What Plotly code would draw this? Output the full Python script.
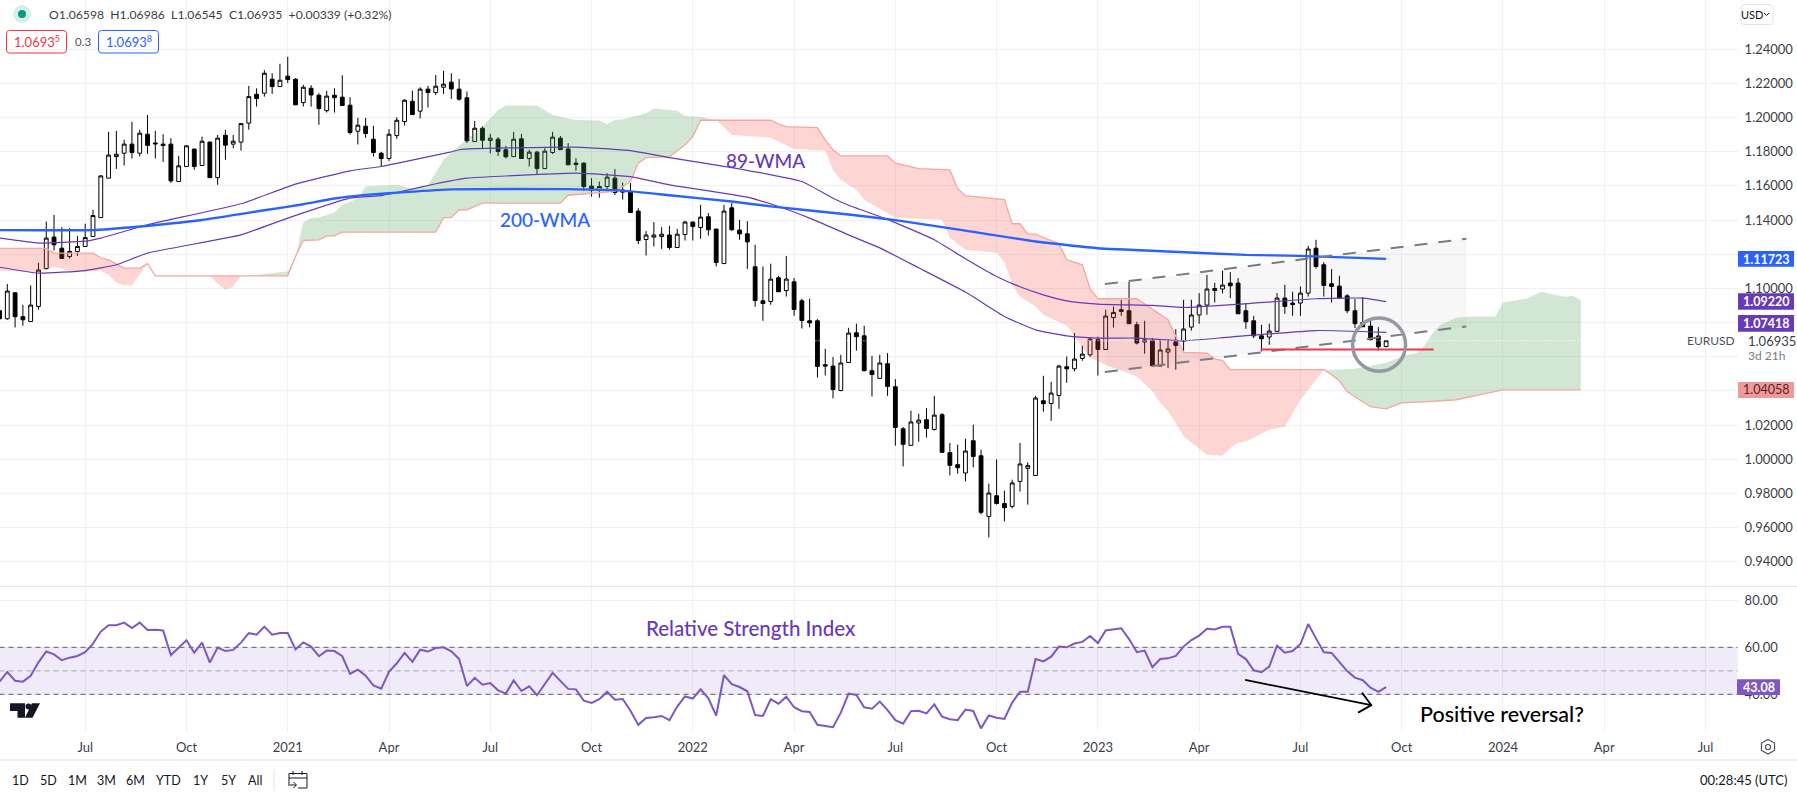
import plotly.graph_objects as go

W, H = 1797, 796
FONT = "Lato"

opens = [1.0869,1.0822,1.0974,1.0834,1.0806,1.0894,1.1116,1.13,1.1235,1.1186,
1.1216,1.1245,1.1303,1.1414,1.1645,1.1771,1.1791,1.1844,1.1791,1.1902,
1.1851,1.1844,1.1844,1.1625,1.1713,1.1815,1.1719,1.1856,1.1648,1.1896,
1.1844,1.1856,1.1967,1.2136,1.2142,1.2224,1.2181,1.2242,1.2224,1.2087,
1.2171,1.213,1.204,1.213,1.2119,1.2072,1.192,1.1949,1.1873,1.1791,
1.176,1.1894,1.1976,1.2095,1.2037,1.2166,1.2146,1.2177,1.2207,1.2166,
1.2115,1.1859,1.1937,1.1865,1.1873,1.1811,1.1771,1.1875,1.176,1.1797,
1.1701,1.1795,1.1879,1.1816,1.1733,1.1733,1.1598,1.1575,1.1596,1.1645,
1.1563,1.1565,1.1452,1.1286,1.13,1.1303,1.1312,1.1239,1.1315,1.1388,
1.1356,1.1419,1.1347,1.1145,1.1471,1.1341,1.1319,1.1126,1.0927,1.0923,
1.1062,1.0987,1.1038,1.0927,1.081,1.081,1.0553,1.0545,1.0402,1.0566,
1.074,1.0722,1.0518,1.0473,1.0559,1.0424,1.0178,1.0081,1.0212,1.0231,
1.0174,1.026,1.0038,0.9968,0.9919,1.0108,1.002,0.9665,0.9786,0.974,
0.9724,0.987,0.9946,0.9905,1.0342,1.0326,1.0373,1.0541,1.0529,1.059,
1.0611,1.0699,1.0642,1.0829,1.0875,1.0869,1.0787,1.0686,1.0693,1.0545,
1.0627,1.0687,1.0691,1.0773,1.0844,1.0902,1.0999,1.0996,1.1031,1.1031,
1.0869,1.081,1.0722,1.0715,1.0748,1.0943,1.0914,1.0914,1.0972,1.1235,
1.1138,1.1027,1.1013,1.0956,1.0869,1.08,1.0779,1.0721,1.06598]

highs = [1.0898,1.1025,1.0976,1.0904,1.1017,1.1149,1.1391,1.143,1.1358,1.1352,
1.1307,1.1378,1.146,1.1662,1.1916,1.1922,1.1869,1.1974,1.1928,1.2015,
1.1922,1.1902,1.1879,1.1775,1.1838,1.1818,1.1888,1.1859,1.1898,1.1928,
1.1898,1.1967,1.2185,1.2171,1.2277,1.2259,1.2314,1.2355,1.223,1.2191,
1.2189,1.2142,1.2156,1.2171,1.2247,1.2119,1.1998,1.1998,1.1951,1.1799,
1.1932,1.2002,1.2107,1.2157,1.2177,1.2185,1.2249,1.2273,1.2259,1.2226,
1.2152,1.198,1.1947,1.1904,1.1885,1.1834,1.1916,1.1904,1.1811,1.1805,
1.182,1.1916,1.1892,1.185,1.1762,1.1736,1.1645,1.1625,1.1674,1.1698,
1.1619,1.1616,1.1469,1.1335,1.1388,1.1358,1.1366,1.1348,1.1395,1.139,
1.1489,1.144,1.1348,1.1489,1.1499,1.1401,1.1393,1.1255,1.1128,1.1144,
1.1073,1.119,1.106,1.0939,1.0939,1.082,1.0646,1.0598,1.0611,1.0769,
1.0793,1.0781,1.0605,1.0611,1.0621,1.0469,1.0188,1.0284,1.0266,1.0299,
1.0371,1.027,1.0095,1.0085,1.012,1.0202,1.0056,0.9857,0.9999,0.9816,
0.988,1.0095,0.9981,1.0371,1.0488,1.0453,1.0553,1.0601,1.0738,1.0664,
1.0715,1.0717,1.0875,1.0894,1.0933,1.1038,1.0804,1.081,1.0709,1.0699,
1.0703,1.0762,1.0933,1.0933,1.0972,1.1078,1.1032,1.1103,1.1095,1.106,
1.091,1.0839,1.0787,1.0793,1.0972,1.1021,1.098,1.1011,1.1249,1.1284,
1.1153,1.1113,1.1073,1.0966,1.0937,1.0949,1.0816,1.0773,1.06986]

lows = [1.0804,1.0816,1.0771,1.0781,1.0806,1.0875,1.1109,1.1221,1.1175,1.1175,
1.119,1.1245,1.1303,1.1413,1.1645,1.1699,1.1719,1.176,1.1771,1.1787,
1.176,1.174,1.1617,1.1625,1.1713,1.1694,1.1719,1.1648,1.1606,1.1752,
1.182,1.1806,1.1928,1.2064,1.2122,1.2138,1.2181,1.2201,1.2074,1.2064,
1.2064,1.1957,1.2029,1.2029,1.207,1.19,1.1842,1.1881,1.1771,1.1713,
1.1746,1.1875,1.1953,1.2017,1.1994,1.2058,1.2132,1.2138,1.2109,1.2099,
1.1851,1.1859,1.1815,1.1789,1.1775,1.176,1.1771,1.176,1.1713,1.167,
1.1701,1.1787,1.1812,1.1723,1.1688,1.1572,1.1537,1.1531,1.1581,1.1546,
1.152,1.144,1.1259,1.1192,1.1245,1.1231,1.1226,1.1239,1.128,1.128,
1.129,1.1309,1.1128,1.1145,1.1337,1.1284,1.1114,1.0892,1.081,1.0904,
1.098,1.0952,1.0839,1.0765,1.0771,1.0478,1.049,1.0356,1.0397,1.0566,
1.0635,1.0514,1.0367,1.0473,1.0371,1.0079,0.9958,1.0081,1.0102,1.0127,
1.0168,1.004,0.9905,0.9915,0.987,0.9952,0.9677,0.9542,0.9734,0.9636,
0.9712,0.981,0.9734,0.9905,1.0278,1.0225,1.0295,1.0447,1.0514,1.0576,
1.06,1.049,1.0642,1.0771,1.0839,1.0793,1.0672,1.0617,1.0543,1.0545,
1.0533,1.0524,1.0635,1.0753,1.0793,1.0845,1.0917,1.097,1.0943,1.0851,
1.0763,1.0709,1.0631,1.067,1.0748,1.0851,1.0839,1.0839,1.0952,1.1116,
1.0952,1.0917,1.0943,1.0855,1.0767,1.0775,1.0693,1.0636,1.06545]

closes = [1.0822,1.0984,1.0834,1.0816,1.0902,1.1107,1.1294,1.1255,1.1175,1.1216,
1.1245,1.1297,1.1426,1.1658,1.178,1.1785,1.1844,1.1795,1.1908,1.1836,
1.1846,1.1836,1.1629,1.1717,1.1834,1.1713,1.1861,1.1648,1.1879,1.1838,
1.1861,1.1964,1.2122,1.2111,1.2259,1.2181,1.2218,1.2222,1.2074,1.2177,
1.2132,1.2052,1.2125,1.2116,1.207,1.1912,1.1955,1.1906,1.1795,1.176,
1.1902,1.1984,1.2101,1.2017,1.2166,1.2146,1.2183,1.2195,1.2167,1.2107,
1.1863,1.1937,1.1867,1.1879,1.1801,1.177,1.1873,1.176,1.1797,1.1701,
1.1803,1.1885,1.1812,1.1723,1.1725,1.1596,1.1575,1.1596,1.1651,1.1561,
1.1575,1.1444,1.128,1.1312,1.1312,1.1317,1.1239,1.1317,1.1388,1.1362,
1.1417,1.1343,1.1151,1.1452,1.1343,1.1319,1.1272,1.0929,1.0911,1.1054,
1.098,1.1054,1.0876,1.0812,1.0798,1.0543,1.0545,1.0407,1.0563,1.0738,
1.0717,1.0518,1.0496,1.0563,1.0426,1.0186,1.0087,1.0218,1.0229,1.018,
1.0258,1.004,0.9964,0.995,1.0048,1.0016,0.9689,0.9802,0.9741,0.9716,
0.9861,0.9972,0.9962,1.0358,1.0325,1.0387,1.0545,1.0529,1.0586,1.0615,
1.0703,1.0642,1.0838,1.0859,1.0865,1.0793,1.068,1.0699,1.0547,1.0639,
1.0645,1.0666,1.0762,1.0844,1.0902,1.0996,1.0987,1.1019,1.1015,1.0851,
1.0804,1.0722,1.0705,1.075,1.0943,1.0894,1.0905,1.0972,1.123,1.1128,
1.1017,1.1011,1.0943,1.0869,1.0793,1.0775,1.0699,1.0658,1.06935]

rsi = [45.4,49.5,45.8,45.4,47.9,53.6,58.2,57.0,54.5,55.6,56.3,57.9,61.6,66.7,69.4,69.4,70.5,68.2,70.5,67.4,
67.5,67.2,56.7,59.7,63.0,57.7,62.0,53.5,59.9,58.4,58.9,62.0,66.0,65.4,68.8,65.4,66.1,66.1,59.1,62.1,
60.3,56.2,58.6,58.4,56.2,48.7,50.5,47.9,43.8,42.4,49.6,53.2,57.6,53.8,59.0,58.2,59.7,60.0,58.3,55.0,
43.5,47.0,44.1,44.8,41.7,40.3,46.0,41.4,43.4,39.6,44.4,49.1,45.7,42.3,42.1,37.3,36.3,37.9,41.1,37.7,
38.0,33.0,27.0,29.9,30.2,30.8,29.0,34.8,39.1,38.2,42.1,38.3,30.9,48.2,44.3,43.1,41.3,31.2,30.8,37.9,
36.0,39.0,34.5,32.8,32.5,27.0,26.5,26.0,32.2,40.3,39.7,34.5,33.9,36.9,33.3,29.0,27.5,32.8,33.0,31.9,
35.7,30.5,29.4,29.0,33.5,32.9,25.5,31.0,30.0,29.5,36.5,41.1,41.1,55.0,54.0,56.0,60.3,60.0,61.6,62.3,
64.8,61.8,67.2,67.8,68.1,63.5,57.9,58.6,51.5,55.0,55.3,56.3,60.3,63.1,65.0,67.9,67.6,68.7,68.7,57.2,
55.0,50.2,49.4,51.8,60.7,57.7,58.4,61.4,69.9,63.8,57.9,57.6,53.6,49.9,47.1,46.0,42.8,41.0,43.08]

wma200_x = [0,12,17,26,34,39,43,47,52,58,73,80,86,94,99,109,115,124,133,141,150,160,167,178]
wma200_y = [1.1341,1.1341,1.1358,1.14,1.1457,1.1492,1.1526,1.1547,1.1563,1.1579,1.1581,1.1572,1.1545,1.1508,1.148,1.1432,1.1399,1.1338,1.1274,1.1235,1.1216,1.1196,1.119,1.11723]

wma_a_x = [0,5,11,13,19,31,38,45,49,51,58,59,61,74,81,86,94,103,107,109,114,120,124,128,131,134,137,141,148,152,160,169,175,178]
wma_a_y = [1.1294,1.1265,1.1276,1.1294,1.1372,1.1495,1.161,1.1688,1.1713,1.1731,1.1799,1.1811,1.1818,1.1826,1.1806,1.1765,1.1707,1.1625,1.1527,1.1486,1.1404,1.1284,1.1173,1.1069,1.1009,1.0962,1.0927,1.0908,1.09,1.0888,1.091,1.0939,1.0943,1.0922]

wma_b_x = [0,5,11,15,19,31,37,45,49,51,56,60,68,74,81,86,96,100,104,109,113,118,124,129,133,137,141,146,152,158,169,178]
wma_b_y = [1.1124,1.1089,1.1104,1.1138,1.1206,1.1313,1.1411,1.1528,1.1543,1.1561,1.1612,1.1645,1.1664,1.1674,1.1654,1.1606,1.1534,1.1479,1.1411,1.1313,1.1237,1.112,1.0978,1.0835,1.0757,1.0722,1.0709,1.0709,1.0693,1.0715,1.0753,1.07418]

lead_b_x = [0,6,7,12,13,14,16,18,19,20,31,37,38,39,41,42,43,44,56,57,58,59,60,62,72,73,79,80,81,82,83,86,88,89,90,92,99,100,101,105,106,107,108,114,115,118,122,123,124,129,130,131,132,133,136,137,139,140,141,146,150,152,155,156,157,158,170,171,172,173,174,176,178,180,183,187,190,193,203]
lead_b_y = [1.1234,1.1234,1.1206,1.1206,1.1179,1.1167,1.1118,1.1118,1.1145,1.1073,1.1073,1.1073,1.1186,1.128,1.1284,1.1307,1.1307,1.1329,1.1329,1.1414,1.1414,1.146,1.146,1.1499,1.1499,1.1545,1.1567,1.1594,1.1625,1.1733,1.1765,1.177,1.184,1.1888,1.1984,1.1984,1.1984,1.1963,1.1947,1.1941,1.1869,1.1811,1.1775,1.1775,1.1733,1.1701,1.1694,1.1583,1.1542,1.1519,1.1378,1.1378,1.1317,1.1317,1.1261,1.1167,1.1138,1.0996,1.0939,1.0939,1.0816,1.0625,1.0621,1.0586,1.0578,1.0524,1.0524,1.0494,1.0459,1.0395,1.0366,1.0307,1.0295,1.033,1.0336,1.0348,1.0377,1.0406,1.04058]

lead_a_x = [0,5,6,7,9,11,13,14,15,16,17,19,20,27,28,29,30,31,33,37,38,39,40,41,43,44,45,46,47,51,53,55,56,57,59,62,64,65,69,71,74,77,78,79,80,83,84,87,88,90,92,93,94,99,102,106,107,108,110,111,115,121,122,124,128,129,130,131,133,134,137,140,142,146,148,149,150,152,155,157,158,159,160,161,163,165,167,170,171,174,177,178,180,182,183,184,185,187,189,192,193,195,196,198,199,201,202,203]
lead_a_y = [1.1103,1.1097,1.1109,1.1126,1.1103,1.1097,1.1103,1.1079,1.1032,1.1017,1.1017,1.1145,1.1073,1.1073,1.1027,1.0992,1.1009,1.1073,1.1079,1.1099,1.1186,1.1385,1.1411,1.1414,1.1444,1.1489,1.1508,1.1526,1.1596,1.1606,1.1581,1.1606,1.1676,1.1752,1.1834,1.1947,1.2044,1.207,1.207,1.2015,1.1986,1.1982,1.1961,1.1986,1.199,1.2025,1.2052,1.2039,1.2009,1.2005,1.1984,1.1945,1.1898,1.1882,1.1815,1.1806,1.1693,1.1635,1.1577,1.1518,1.1413,1.1401,1.1296,1.1226,1.1208,1.1155,1.1021,1.0951,1.0894,1.0845,1.0781,1.0594,1.0553,1.0484,1.0397,1.0329,1.0284,1.0133,1.0026,1.002,1.0065,1.0096,1.0104,1.0126,1.0173,1.019,1.0348,1.0524,1.0524,1.0529,1.0553,1.0564,1.0601,1.0623,1.067,1.074,1.0787,1.0828,1.0835,1.0835,1.0917,1.0933,1.0939,1.098,1.0968,1.0951,1.0956,1.0929]

cloud_sections = [(0,19,"red"),(19,31,"red"),(31,92,"green"),(92,170,"red"),(170,203,"green")]

channel_x = [141.9, 188.3]
channel_top = [1.1025, 1.129]
channel_bottom = [1.051, 1.0777]
support_x = [161.9, 184.1]
support_y = [1.0642, 1.0642]
circle_x = [173.7, 180.5]
circle_y = [1.0514, 1.0826]
arrow_x = [159.9, 176.1]
arrow_y = [46.1, 35.4]
head_x = [174.9, 176.1, 174.4]
head_y = [40.7, 35.4, 32.2]
last_price = 1.06935

price_ticks = [0.94,0.96,0.98,1.00,1.02,1.04,1.06,1.08,1.10,1.12,1.14,1.16,1.18,1.20,1.22,1.24]
price_labels = ["0.94000","0.96000","0.98000","1.00000","1.02000","","","","1.10000","","1.14000","1.16000","1.18000","1.20000","1.22000","1.24000"]
rsi_ticks = [40,60,80]
time_ticks = [11,24,37,50,63,76,89,102,115,128,141,154,167,180,193,206,219]
time_labels = ["Jul","Oct","2021","Apr","Jul","Oct","2022","Apr","Jul","Oct","2023","Apr","Jul","Oct","2024","Apr","Jul"]
buttons = [("1D",20),("5D",48),("1M",77),("3M",106),("6M",135),("YTD",168),("1Y",200),("5Y",228),("All",255)]

PURPLE = "#673ab7"
BLUE = "#2962ff"
RED = "#f23645"
PINK = "#f5a6a3"
GRID = "#f0f1f5"
INK = "#131722"
GREY = "#50535e"

def px(x): return x / W
def py(y): return 1 - y / H

fig = go.Figure()

for a, b, kind in cloud_sections:
    ax = [i for i in lead_a_x if a <= i <= b]
    ay = [v for i, v in zip(lead_a_x, lead_a_y) if a <= i <= b]
    bx = [i for i in lead_b_x if a <= i <= b]
    by = [v for i, v in zip(lead_b_x, lead_b_y) if a <= i <= b]
    color = "rgba(76,160,80,0.25)" if kind == "green" else "rgba(244,67,54,0.22)"
    fig.add_trace(go.Scatter(x=ax + bx[::-1], y=ay + by[::-1], mode="lines", fill="toself",
                             fillcolor=color, line=dict(width=0), hoverinfo="skip", xaxis="x", yaxis="y"))

fig.add_trace(go.Scatter(x=channel_x + channel_x[::-1], y=channel_top + channel_bottom[::-1], mode="lines",
                         fill="toself", fillcolor="rgba(120,123,134,0.06)", line=dict(width=0),
                         hoverinfo="skip", xaxis="x", yaxis="y"))

fig.add_trace(go.Scatter(x=lead_b_x, y=lead_b_y, mode="lines", line=dict(color=PINK, width=1.3),
                         hoverinfo="skip", xaxis="x", yaxis="y"))
fig.add_trace(go.Scatter(x=wma_a_x, y=wma_a_y, mode="lines", line=dict(color=PURPLE, width=1.2, shape="spline", smoothing=0.4),
                         hoverinfo="skip", xaxis="x", yaxis="y"))
fig.add_trace(go.Scatter(x=wma_b_x, y=wma_b_y, mode="lines", line=dict(color=PURPLE, width=1.2, shape="spline", smoothing=0.4),
                         hoverinfo="skip", xaxis="x", yaxis="y"))
fig.add_trace(go.Scatter(x=wma200_x, y=wma200_y, mode="lines", line=dict(color=BLUE, width=2.4, shape="spline", smoothing=0.4),
                         hoverinfo="skip", xaxis="x", yaxis="y"))

fig.add_trace(go.Candlestick(x=list(range(len(opens))), open=opens, high=highs, low=lows, close=closes,
                             increasing=dict(fillcolor="white", line=dict(color="black", width=1)),
                             decreasing=dict(fillcolor="black", line=dict(color="black", width=1)),
                             whiskerwidth=0, hoverinfo="skip", xaxis="x", yaxis="y"))

fig.add_trace(go.Scatter(x=[0, 203], y=[last_price, last_price], mode="lines",
                         line=dict(color="white", width=1, dash="1px,2px"), hoverinfo="skip", xaxis="x", yaxis="y"))
for ys in (channel_top, channel_bottom):
    fig.add_trace(go.Scatter(x=channel_x, y=ys, mode="lines", line=dict(color="#787b86", width=2, dash="13px,11px"),
                             hoverinfo="skip", xaxis="x", yaxis="y"))
fig.add_trace(go.Scatter(x=support_x, y=support_y, mode="lines", line=dict(color=RED, width=2),
                         hoverinfo="skip", xaxis="x", yaxis="y"))

# RSI pane
fig.add_trace(go.Scatter(x=[0, 224, 224, 0], y=[40, 40, 60, 60], mode="lines", fill="toself",
                         fillcolor="rgba(103,58,183,0.1)", line=dict(width=0), hoverinfo="skip", xaxis="x2", yaxis="y2"))
for lvl, col in ((60, "#787b86"), (50, "#b5b3bd"), (40, "#787b86")):
    fig.add_trace(go.Scatter(x=[0, 224], y=[lvl, lvl], mode="lines", line=dict(color=col, width=1.2, dash="5px,4px"),
                             hoverinfo="skip", xaxis="x2", yaxis="y2"))
fig.add_trace(go.Scatter(x=list(range(len(rsi))), y=rsi, mode="lines", line=dict(color="#7e57c2", width=2),
                         hoverinfo="skip", xaxis="x2", yaxis="y2"))
fig.add_trace(go.Scatter(x=arrow_x, y=arrow_y, mode="lines", line=dict(color="black", width=1.8),
                         hoverinfo="skip", xaxis="x2", yaxis="y2"))
fig.add_trace(go.Scatter(x=head_x, y=head_y, mode="lines", line=dict(color="black", width=1.8),
                         hoverinfo="skip", xaxis="x2", yaxis="y2"))

def path(points, close=False):
    s = "M " + " L ".join(f"{px(x):.5f},{py(y):.5f}" for x, y in points)
    return s + (" Z" if close else "")

def rrect(x0, y0, x1, y1, r):
    pts = [f"M {px(x0+r):.5f},{py(y0):.5f}", f"L {px(x1-r):.5f},{py(y0):.5f}",
           f"Q {px(x1):.5f},{py(y0):.5f} {px(x1):.5f},{py(y0+r):.5f}",
           f"L {px(x1):.5f},{py(y1-r):.5f}", f"Q {px(x1):.5f},{py(y1):.5f} {px(x1-r):.5f},{py(y1):.5f}",
           f"L {px(x0+r):.5f},{py(y1):.5f}", f"Q {px(x0):.5f},{py(y1):.5f} {px(x0):.5f},{py(y1-r):.5f}",
           f"L {px(x0):.5f},{py(y0+r):.5f}", f"Q {px(x0):.5f},{py(y0):.5f} {px(x0+r):.5f},{py(y0):.5f} Z"]
    return " ".join(pts)

def pshape(d, line=None, fill=None, width=1):
    return dict(type="path", path=d, xref="paper", yref="paper", layer="above",
                line=dict(color=line or "rgba(0,0,0,0)", width=width if line else 0), fillcolor=fill or "rgba(0,0,0,0)")

def cshape(x0, y0, x1, y1, line=None, fill=None, width=1):
    return dict(type="circle", xref="paper", yref="paper", x0=px(x0), x1=px(x1), y0=py(y1), y1=py(y0), layer="above",
                line=dict(color=line or "rgba(0,0,0,0)", width=width if line else 0), fillcolor=fill or "rgba(0,0,0,0)")

def lshape(x0, y0, x1, y1, color="#e0e3eb", width=1):
    return dict(type="line", xref="paper", yref="paper", x0=px(x0), x1=px(x1), y0=py(y0), y1=py(y1), layer="above",
                line=dict(color=color, width=width))

shapes = [
    dict(type="circle", xref="x", yref="y", x0=circle_x[0], x1=circle_x[1], y0=circle_y[0], y1=circle_y[1],
         layer="above", line=dict(color="#9598a1", width=3.5)),
    lshape(0, 586.3, W, 586.3),
    lshape(0, 760, W, 760),
    lshape(274, 769, 274, 791),
    # header marker
    cshape(13, 5, 31, 23, fill="#d7efe9"),
    cshape(18, 10, 26, 18, fill="#089981"),
    # price boxes
    pshape(rrect(6.5, 30.5, 66.5, 53, 3), line=RED, width=1),
    pshape(rrect(98.5, 30.5, 158.5, 53, 3), line=BLUE, width=1),
    # currency box and chevron
    pshape(rrect(1741, 4.5, 1773, 24.5, 4), line="#e0e3eb", width=1),
    pshape(path([(1764, 13), (1766.5, 15.5), (1769, 13)]), line=INK, width=1),
    # value boxes on the scale
    pshape(path([(1738, 251), (1794, 251), (1794, 266.7), (1738, 266.7)], True), fill=BLUE),
    pshape(path([(1738, 293.3), (1794, 293.3), (1794, 309.7), (1738, 309.7)], True), fill=PURPLE),
    pshape(path([(1738, 315), (1794, 315), (1794, 331.7), (1738, 331.7)], True), fill=PURPLE),
    pshape(path([(1738, 382), (1794, 382), (1794, 398), (1738, 398)], True), fill="#ef9a9a"),
    pshape(path([(1737, 679.3), (1780, 679.3), (1780, 695), (1737, 695)], True), fill="#7e57c2"),
    # logo
    pshape(path([(10, 703.3), (25, 703.3), (25, 717.7), (17.5, 717.7), (17.5, 711), (10, 711)], True), fill=INK),
    cshape(25.5, 703.5, 31.5, 709.5, fill=INK),
    pshape(path([(32, 703.3), (40, 703.3), (32.5, 717.7), (25, 717.7)], True), fill=INK),
    # calendar icon
    pshape(path([(293, 771), (293, 775)]), line=INK),
    pshape(path([(302, 771), (302, 775)]), line=INK),
    pshape(path([(289, 784), (289, 773.5), (307, 773.5), (307, 788), (298, 788)]), line=INK),
    pshape(path([(289, 778), (307, 778)]), line=INK),
    pshape(path([(288, 785), (296, 785)]), line=INK),
    pshape(path([(293.5, 782), (296.5, 785), (293.5, 788)]), line=INK),
    # gear icon
    pshape(path([(1768, 739.5), (1774.5, 743), (1774.5, 750.5), (1768, 754), (1761.5, 750.5), (1761.5, 743)], True), line="#50535e", width=1.2),
    cshape(1765.5, 744.5, 1770.5, 749.5, line="#50535e", width=1.2),
]

def note(x, y, text, size=12, color=INK, anchor="left", bold=False, weight=None):
    f = dict(family=FONT, size=size, color=color)
    if weight:
        f["weight"] = weight
    return dict(xref="paper", yref="paper", x=px(x), y=py(y), text=f"<b>{text}</b>" if bold else text, showarrow=False,
                xanchor=anchor, yanchor="middle", align=anchor, font=f)

annos = [
    note(47, 14.7, "O1.06598  H1.06986  L1.06545  C1.06935  +0.00339 (+0.32%)", 12.2, "#3b3e48"),
    note(36.5, 42, "1.0693<sup>5</sup>", 13, RED, "center"),
    note(83, 42, "0.3", 11.5, GREY, "center"),
    note(128.5, 42, "1.0693<sup>8</sup>", 13, BLUE, "center"),
    note(1752, 15, "USD", 11, INK, "center"),
    note(765, 161, "89-WMA", 19, PURPLE, "center", weight=500),
    note(545, 220, "200-WMA", 19, BLUE, "center", weight=500),
    note(750.5, 628.3, "Relative Strength Index", 20.5, PURPLE, "center", weight=500),
    note(1501.5, 714, "Positive reversal?", 21.5, "black", "center", weight=500),
    note(1766, 259, "1.11723", 12.5, "white", "center", True),
    note(1766, 301.5, "1.09220", 12.5, "white", "center", True),
    note(1766, 323.3, "1.07418", 12.5, "white", "center", True),
    note(1766, 390, "1.04058", 12.5, "#5d1f1f", "center"),
    note(1758.5, 687, "43.08", 12.5, "white", "center", True),
    note(1710.5, 340.7, "EURUSD", 12, GREY, "center"),
    note(1746, 340.7, "1.06935", 13, "#3b3e48"),
    note(1746, 355, "3d 21h", 12, "#787b86"),
    note(1743.5, 780, "00:28:45 (UTC)", 13, INK, "center"),
]
for label, cx in buttons:
    annos.append(note(cx, 780, label, 12.5, INK, "center"))

x_range = [0.063, 223.12]
dom_x = [0, 1737.6 / W]
fig.update_layout(
    width=W, height=H, margin=dict(l=0, r=0, t=0, b=0), autosize=False,
    paper_bgcolor="white", plot_bgcolor="white", showlegend=False, dragmode=False,
    font=dict(family=FONT, size=12, color="#3b3e48"), shapes=shapes, annotations=annos,
    xaxis=dict(domain=dom_x, range=x_range, tickvals=time_ticks, showticklabels=False, ticks="", showgrid=True,
               gridcolor=GRID, gridwidth=1, zeroline=False, rangeslider=dict(visible=False), anchor="y", showline=False),
    yaxis=dict(domain=[1 - 586.3 / H, 1], range=[0.9256, 1.26877], side="right", anchor="x", tickvals=price_ticks,
               ticktext=price_labels, showgrid=True, gridcolor=GRID, gridwidth=1, zeroline=False, ticks="", ticklabelstandoff=6,
               tickfont=dict(family=FONT, size=13, color="#3b3e48"), showline=False),
    xaxis2=dict(domain=dom_x, range=x_range, tickvals=time_ticks, ticktext=time_labels, ticks="", showgrid=True,
                gridcolor=GRID, gridwidth=1, zeroline=False, anchor="y2", ticklabelstandoff=6, showline=False,
                tickfont=dict(family=FONT, size=13, color="#3b3e48")),
    yaxis2=dict(domain=[1 - 732 / H, 1 - 586.3 / H], range=[23.96, 85.96], side="right", anchor="x2", tickvals=rsi_ticks,
                tickformat=".2f", showgrid=True, gridcolor=GRID, gridwidth=1, zeroline=False, ticks="", ticklabelstandoff=6,
                tickfont=dict(family=FONT, size=13, color="#3b3e48"), showline=False),
)

fig.write_html("out.html", config={"displayModeBar": False, "staticPlot": True},
               post_script="document.body.style.margin='0';document.documentElement.style.overflow='hidden';")
